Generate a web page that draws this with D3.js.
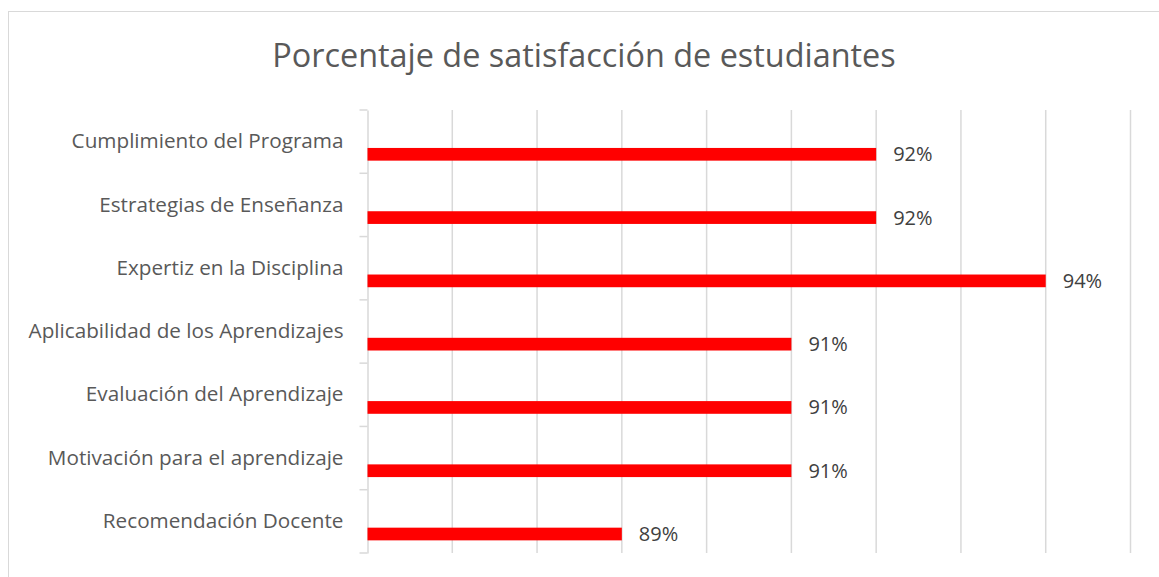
<!DOCTYPE html>
<html>
<head>
<meta charset="UTF-8">
<title>Porcentaje de satisfacción de estudiantes</title>
<script src="https://cdn.jsdelivr.net/npm/d3@7"></script>
<style>
  body { margin: 0; background: #fff; }
  svg { display: block; font-family: "Open Sans", sans-serif; }
</style>
</head>
<body>
<div id="chart"></div>
<script>
const categories = [
  "Cumplimiento del Programa",
  "Estrategias de Enseñanza",
  "Expertiz en la Disciplina",
  "Aplicabilidad de los Aprendizajes",
  "Evaluación del Aprendizaje",
  "Motivación para el aprendizaje",
  "Recomendación Docente"
];
const values = [92, 92, 94, 91, 91, 91, 89];
const xTicks = [86, 87, 88, 89, 90, 91, 92, 93, 94, 95];

const w = 1159, h = 577;
const plot = { left: 367.5, right: 1130.5, top: 110, bottom: 553 };

const svg = d3.select("#chart").append("svg")
  .attr("width", w)
  .attr("height", h);

// chart border
svg.append("rect")
  .attr("x", 8.5).attr("y", 11.5)
  .attr("width", w + 10).attr("height", h + 10)
  .attr("fill", "#fff")
  .attr("stroke", "#d9d9d9");

svg.append("text")
  .attr("x", 584)
  .attr("y", 67)
  .attr("text-anchor", "middle")
  .attr("fill", "#595959")
  .style("font-size", "32.4px")
  .text("Porcentaje de satisfacción de estudiantes");

const x = d3.scaleLinear()
  .domain([86, 95])
  .range([plot.left, plot.right]);

const y = d3.scaleBand()
  .domain(categories)
  .range([plot.top, plot.bottom]);

// vertical gridlines
svg.append("g")
  .selectAll("line")
  .data(xTicks.slice(1))
  .join("line")
  .attr("x1", d => x(d)).attr("x2", d => x(d))
  .attr("y1", plot.top).attr("y2", plot.bottom)
  .attr("stroke", "#d9d9d9")
  .attr("stroke-width", 1.5);

// category axis
const yAxis = d3.axisLeft(y).tickSize(0).tickPadding(24);
const gy = svg.append("g")
  .attr("transform", `translate(${plot.left},0)`)
  .call(yAxis);
gy.select(".domain").attr("stroke", "#d9d9d9").attr("stroke-width", 1.5);
gy.selectAll(".tick text")
  .attr("fill", "#595959")
  .style("font-size", "20.7px")
  .style("font-family", "'Open Sans', sans-serif");

// tick marks between categories
const bounds = categories.map(c => y(c)).concat([plot.bottom]);
gy.append("g")
  .selectAll("line")
  .data(bounds)
  .join("line")
  .attr("x1", -8).attr("x2", 0)
  .attr("y1", d => d).attr("y2", d => d)
  .attr("stroke", "#d9d9d9")
  .attr("stroke-width", 1.5);

// bars sit in the lower part of each band
const bw = y.bandwidth();
const barH = 12.7;
const barOffset = bw * 0.70 - barH / 2;

svg.append("g")
  .selectAll("rect")
  .data(values)
  .join("rect")
  .attr("x", x(86))
  .attr("y", (d, i) => y(categories[i]) + barOffset)
  .attr("width", d => x(d) - x(86))
  .attr("height", barH)
  .attr("fill", "#ff0000");

svg.append("g")
  .selectAll("text")
  .data(values)
  .join("text")
  .attr("x", d => x(d) + 17)
  .attr("y", (d, i) => y(categories[i]) + barOffset + barH / 2)
  .attr("dy", "0.35em")
  .attr("fill", "#404040")
  .style("font-size", "20px")
  .text(d => d + "%");
</script>
</body>
</html>
